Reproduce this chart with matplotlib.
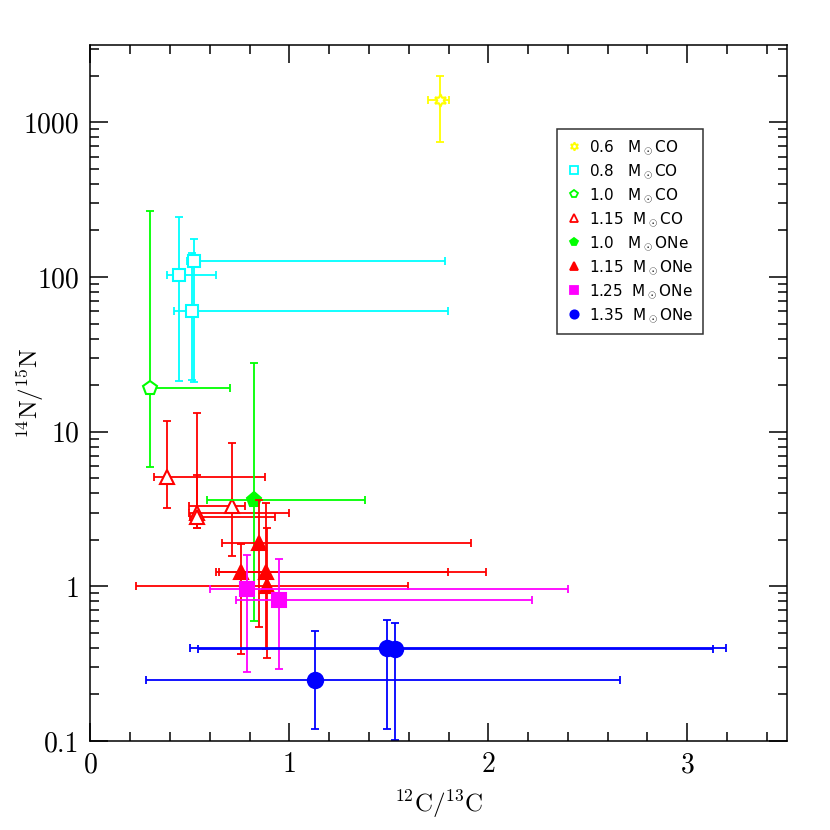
import matplotlib
matplotlib.use("Agg")
import matplotlib.pyplot as plt
from matplotlib.lines import Line2D
from matplotlib.ticker import FixedLocator, FixedFormatter, MultipleLocator, LogLocator, NullFormatter
import numpy as np

plt.rcParams['font.family'] = ['cmr10', 'DejaVu Serif']
plt.rcParams['mathtext.fontset'] = 'cm'
plt.rcParams['axes.formatter.use_mathtext'] = True

# ---- data: (x, y, x_low, x_high, y_low, y_high) ----
labels = ["0.6   M$_\\odot$CO", "0.8   M$_\\odot$CO", "1.0   M$_\\odot$CO", "1.15  M$_\\odot$CO",
          "1.0   M$_\\odot$ONe", "1.15  M$_\\odot$ONe", "1.25  M$_\\odot$ONe", "1.35  M$_\\odot$ONe"]

co06_x = [1.757];  co06_y = [1390]
co06_xlo = [1.695]; co06_xhi = [1.802]; co06_ylo = [750]; co06_yhi = [1990]

co08_x = [0.444, 0.521, 0.509];  co08_y = [103, 127, 60]
co08_xlo = [0.383, 0.484, 0.420]; co08_xhi = [0.631, 1.782, 1.797]
co08_ylo = [21.2, 21.0, 21.5];    co08_yhi = [245, 176, 143]

co10_x = [0.300]; co10_y = [19.1]
co10_xlo = [0.290]; co10_xhi = [0.702]; co10_ylo = [5.93]; co10_yhi = [267]

co115_x = [0.385, 0.712, 0.536, 0.536]; co115_y = [5.12, 3.32, 2.99, 2.82]
co115_xlo = [0.320, 0.495, 0.495, 0.500]; co115_xhi = [0.876, 0.777, 0.998, 0.928]
co115_ylo = [3.19, 1.57, 2.37, 2.40]; co115_yhi = [11.8, 8.4, 13.3, 5.25]

one10_x = [0.822]; one10_y = [3.63]
one10_xlo = [0.586]; one10_xhi = [1.380]; one10_ylo = [0.593]; one10_yhi = [28]

one115_x = [0.847, 0.757, 0.882, 0.886]; one115_y = [1.90, 1.23, 1.23, 1.01]
one115_xlo = [0.661, 0.630, 0.646, 0.229]; one115_xhi = [1.911, 1.798, 1.988, 1.596]
one115_ylo = [0.545, 0.363, 0.391, 0.343]; one115_yhi = [3.60, 1.87, 3.45, 2.37]

one125_x = [0.787, 0.946]; one125_y = [0.966, 0.812]
one125_xlo = [0.601, 0.732]; one125_xhi = [2.400, 2.218]
one125_ylo = [0.279, 0.293]; one125_yhi = [1.59, 1.51]

one135_x = [1.129, 1.492, 1.531]; one135_y = [0.249, 0.401, 0.396]
one135_xlo = [0.278, 0.500, 0.539]; one135_xhi = [2.661, 3.197, 3.127]
one135_ylo = [0.119, 0.119, 0.101]; one135_yhi = [0.514, 0.603, 0.579]

xticks = [0, 1, 2, 3]
yticks = [0.1, 1, 10, 100, 1000]
yticklabels = ["0.1", "1", "10", "100", "1000"]

series = [
    (co06_x, co06_y, co06_xlo, co06_xhi, co06_ylo, co06_yhi, '#ffff00', (6, 1, 0), False, 9),
    (co08_x, co08_y, co08_xlo, co08_xhi, co08_ylo, co08_yhi, '#00ffff', 's', False, 9),
    (co10_x, co10_y, co10_xlo, co10_xhi, co10_ylo, co10_yhi, '#00ff00', 'p', False, 10),
    (co115_x, co115_y, co115_xlo, co115_xhi, co115_ylo, co115_yhi, '#ff0000', '^', False, 10),
    (one10_x, one10_y, one10_xlo, one10_xhi, one10_ylo, one10_yhi, '#00ff00', 'p', True, 11),
    (one115_x, one115_y, one115_xlo, one115_xhi, one115_ylo, one115_yhi, '#ff0000', '^', True, 10),
    (one125_x, one125_y, one125_xlo, one125_xhi, one125_ylo, one125_yhi, '#ff00ff', 's', True, 10),
    (one135_x, one135_y, one135_xlo, one135_xhi, one135_ylo, one135_yhi, '#0000ff', 'o', True, 11),
]

fig = plt.figure(figsize=(8.3, 8.3), dpi=100)
ax = fig.add_axes([0.1089, 0.1072, 0.839, 0.8386])
ax.set_yscale('log')

handles = []
for (x, y, xlo, xhi, ylo, yhi, col, mk, filled, ms), lab in zip(series, labels):
    x = np.array(x); y = np.array(y)
    xerr = [x - np.array(xlo), np.array(xhi) - x]
    yerr = [y - np.array(ylo), np.array(yhi) - y]
    ax.errorbar(x, y, xerr=xerr, yerr=yerr, fmt='none', ecolor=col, elinewidth=1.3,
                capsize=3, capthick=1.3)
    ax.plot(x, y, linestyle='none', marker=mk, markersize=ms, markeredgewidth=1.5,
            markeredgecolor=col, markerfacecolor=col if filled else 'white')
    handles.append(Line2D([], [], linestyle='none', marker=mk, markersize=6,
                          markeredgewidth=1.3, markeredgecolor=col,
                          markerfacecolor=col if filled else 'none'))

ax.set_xlim(0, 3.5)
ax.set_ylim(0.1, 10**3.5)

ax.xaxis.set_major_locator(FixedLocator(xticks))
ax.xaxis.set_minor_locator(MultipleLocator(0.2))
ax.yaxis.set_major_locator(FixedLocator(yticks))
ax.yaxis.set_major_formatter(FixedFormatter(yticklabels))
ax.yaxis.set_minor_locator(LogLocator(base=10, subs=np.arange(2, 10)))
ax.yaxis.set_minor_formatter(NullFormatter())

ax.tick_params(which='both', direction='in', top=True, right=True, width=1.1)
ax.tick_params(which='major', length=13, labelsize=20, pad=8)
ax.tick_params(which='minor', length=6.5)
for s in ax.spines.values():
    s.set_linewidth(1.1)

ax.set_xlabel(r'$^{12}$C/$^{13}$C', fontsize=18)
ax.set_ylabel(r'$^{14}$N/$^{15}$N', fontsize=18)
ax.xaxis.set_label_coords(0.5, -0.068)
ax.yaxis.set_label_coords(-0.064, 0.5)

leg = ax.legend(handles, labels, loc='upper left', bbox_to_anchor=(0.670, 0.879),
                borderaxespad=0.0, frameon=True, fancybox=False, edgecolor='black',
                handlelength=1.0, handletextpad=0.5, labelspacing=0.36, borderpad=0.6,
                prop={'family': ['DejaVu Sans'], 'size': 11})
leg.get_frame().set_linewidth(1.1)

fig.savefig('out.png', dpi=100)
